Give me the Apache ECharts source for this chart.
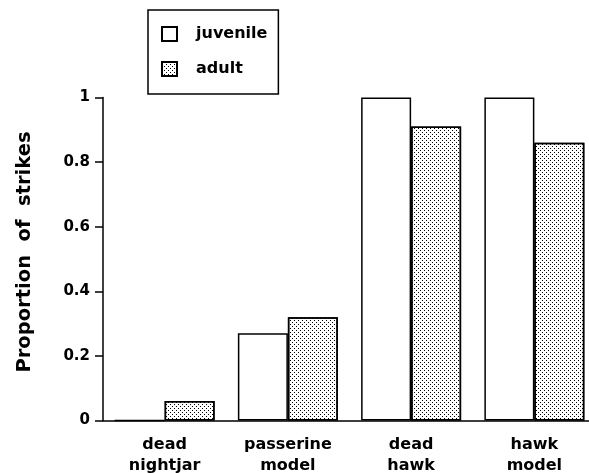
<!DOCTYPE html>
<html>
<head>
<meta charset="utf-8">
<script src="https://cdn.jsdelivr.net/npm/echarts@6/dist/echarts.min.js"></script>
<style>html,body{margin:0;padding:0;background:#fff}#c{width:589px;height:473px}</style>
</head>
<body>
<div id="c"></div>
<script>
const categories = ['dead\nnightjar', 'passerine\nmodel', 'dead\nhawk', 'hawk\nmodel'];
const juvenile = [0, 0.27, 1, 1];
const adult = [0.06, 0.32, 0.91, 0.86];
const seriesNames = ['juvenile', 'adult'];
const yTicks = { min: 0, max: 1, interval: 0.2 };
const yTitle = 'Proportion  of  strikes';

const font = '"DejaVu Sans", sans-serif';
const chart = echarts.init(document.getElementById('c'), null, { renderer: 'canvas' });
const dotDecal = {
  symbol: 'rect',
  symbolSize: 1,
  color: '#000',
  dashArrayX: [[1, 2.3], [0, 1.65, 1, 0.65]],
  dashArrayY: [1, 0.65],
  rotation: 0
};
chart.setOption({
  animation: false,
  backgroundColor: '#fff',
  grid: { left: 103, width: 493, top: 97.5, height: 323, containLabel: false, outerBoundsMode: 'none' },
  legend: {
    orient: 'vertical',
    left: 148, top: 10,
    padding: [14, 11, 15, 13],
    borderColor: '#000', borderWidth: 1.5,
    itemWidth: 15, itemHeight: 14, itemGap: 15,
    icon: 'rect',
    textStyle: { fontFamily: font, fontWeight: 'bold', fontSize: 16, color: '#000', lineHeight: 20, padding: [0, 0, 0, 14] },
    data: seriesNames
  },
  xAxis: {
    type: 'category',
    data: categories,
    axisLine: { lineStyle: { color: '#000', width: 1.5 } },
    axisTick: { alignWithLabel: true, length: 8, lineStyle: { color: '#000', width: 1.5 } },
    axisLabel: { fontFamily: font, fontWeight: 'bold', fontSize: 16, color: '#000', lineHeight: 21, margin: 14, interval: 0 }
  },
  yAxis: {
    type: 'value',
    min: yTicks.min, max: yTicks.max, interval: yTicks.interval,
    name: yTitle,
    nameLocation: 'middle',
    nameGap: 68,
    nameTextStyle: { fontFamily: font, fontWeight: 'bold', fontSize: 19.5, color: '#000', padding: [0, 0, 0, 14] },
    axisLine: { show: true, lineStyle: { color: '#000', width: 1.5 } },
    axisTick: { show: true, length: 8, lineStyle: { color: '#000', width: 1.5 } },
    axisLabel: { fontFamily: font, fontWeight: 'bold', fontSize: 15, color: '#000', margin: 13 },
    splitLine: { show: false }
  },
  series: [
    {
      name: seriesNames[0], type: 'bar', data: juvenile,
      barWidth: 50, barGap: '0%',
      itemStyle: { color: '#fff', borderColor: '#000', borderWidth: 1.5 }
    },
    {
      name: seriesNames[1], type: 'bar', data: adult,
      barWidth: 50, barGap: '0%',
      itemStyle: { color: '#fff', borderColor: '#000', borderWidth: 1.5, decal: dotDecal }
    }
  ]
});
</script>
</body>
</html>
